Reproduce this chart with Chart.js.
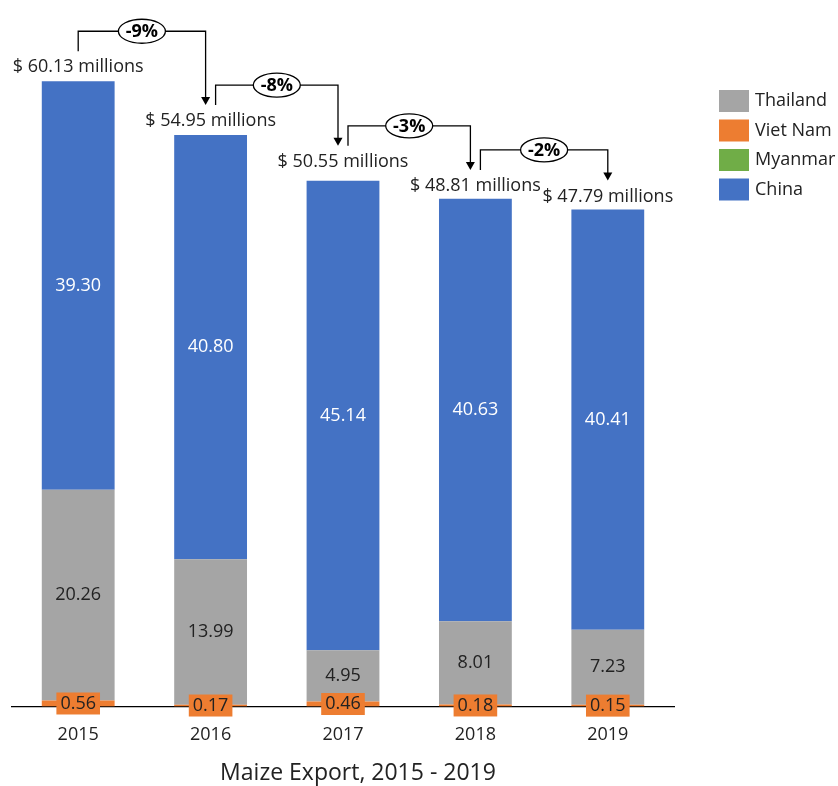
<!DOCTYPE html>
<html>
<head>
<meta charset="utf-8">
<title>Maize Export, 2015 - 2019</title>
<script src="https://cdn.jsdelivr.net/npm/chart.js@4.4.1/dist/chart.umd.min.js"></script>
<style>
    html, body { margin: 0; padding: 0; background: #fff; }
    #wrap { width: 838px; height: 786px; }
</style>
</head>
<body>
<div id="wrap"><canvas id="maizeChart" width="838" height="786"></canvas></div>
<script>
// Maize export by origin, US$ millions
const years = ['2015', '2016', '2017', '2018', '2019'];
const vietNam = [0.56, 0.17, 0.46, 0.18, 0.15];
const myanmar = [0.01, 0.00, 0.00, 0.00, 0.00];
const thailand = [20.26, 13.99, 4.95, 8.01, 7.23];
const china = [39.30, 40.80, 45.14, 40.63, 40.41];
const totals = [60.13, 54.95, 50.55, 48.81, 47.79];

const FONT = "'Open Sans', 'Noto Sans', sans-serif";
const TEXT = '#222';

// Segment labels, totals, change arrows, legend and title
const annotations = {
    id: 'annotations',
    afterDatasetsDraw(chart, args, opts) {
        const ctx = chart.ctx;
        const y = chart.scales.y;
        ctx.save();
        ctx.textAlign = 'center';
        ctx.textBaseline = 'middle';
        ctx.font = '18px ' + FONT;

        // values inside the stacked segments
        chart.data.datasets.forEach(function(ds, di) {
            const meta = chart.getDatasetMeta(di);
            meta.data.forEach(function(bar, i) {
                const v = ds.data[i];
                if (!v || ds.label === 'Myanmar') return;
                const cy = (bar.y + bar.base) / 2;
                const txt = v.toFixed(2);
                if (ds.label === 'Viet Nam') {
                    const w = ctx.measureText(txt).width + 8;
                    ctx.fillStyle = ds.backgroundColor;
                    ctx.fillRect(bar.x - w / 2, cy - 11, w, 22);
                    ctx.fillStyle = TEXT;
                } else {
                    ctx.fillStyle = ds.label === 'China' ? '#fff' : TEXT;
                }
                ctx.fillText(txt, bar.x, cy);
            });
        });

        // totals above each bar
        const xs = chart.getDatasetMeta(0).data.map(b => b.x);
        const labelY = totals.map((t, i) => y.getPixelForValue(t) - opts.lift[i]);
        ctx.fillStyle = TEXT;
        totals.forEach(function(t, i) {
            ctx.fillText('$ ' + t.toFixed(2) + ' millions', xs[i], labelY[i]);
        });

        // year-on-year change connectors
        ctx.strokeStyle = '#000';
        ctx.lineWidth = 1.3;
        for (let i = 0; i < totals.length - 1; i++) {
            const x0 = xs[i] + (i > 0 ? 5 : 0);
            const x1 = xs[i + 1] - (i + 1 < totals.length - 1 ? 5 : 0);
            const yStart = labelY[i] - 16;
            const yTop = yStart - 20;
            const yTip = labelY[i + 1] - 16;
            ctx.beginPath();
            ctx.moveTo(x0, yStart);
            ctx.lineTo(x0, yTop);
            ctx.lineTo(x1, yTop);
            ctx.lineTo(x1, yTip - 7);
            ctx.stroke();
            ctx.beginPath();
            ctx.moveTo(x1 - 4.5, yTip - 8);
            ctx.lineTo(x1 + 4.5, yTip - 8);
            ctx.lineTo(x1, yTip);
            ctx.closePath();
            ctx.fillStyle = '#000';
            ctx.fill();

            const pct = Math.round((totals[i + 1] - totals[i]) / totals[i] * 100);
            const mx = (x0 + x1) / 2;
            ctx.beginPath();
            ctx.ellipse(mx, yTop, 23.5, 12, 0, 0, Math.PI * 2);
            ctx.fillStyle = '#fff';
            ctx.fill();
            ctx.stroke();
            ctx.fillStyle = '#000';
            ctx.font = 'bold 18px ' + FONT;
            ctx.fillText(pct + '%', mx, yTop + 1);
            ctx.font = '18px ' + FONT;
        }

        // legend
        ctx.textAlign = 'left';
        opts.legendOrder.forEach(function(di, k) {
            const ds = chart.data.datasets[di];
            const top = 90 + k * 29.5;
            ctx.fillStyle = ds.backgroundColor;
            ctx.fillRect(719, top, 30, 22);
            ctx.fillStyle = TEXT;
            ctx.fillText(ds.label, 755, top + 11);
        });

        // title under the axis
        ctx.textAlign = 'center';
        ctx.font = '23px ' + FONT;
        ctx.fillText('Maize Export, 2015 - 2019', 358, 773);
        ctx.restore();
    }
};

new Chart(document.getElementById('maizeChart'), {
    type: 'bar',
    data: {
        labels: years,
        datasets: [
            { label: 'Viet Nam', data: vietNam, backgroundColor: '#ED7D31' },
            { label: 'Myanmar', data: myanmar, backgroundColor: '#70AD47' },
            { label: 'Thailand', data: thailand, backgroundColor: '#A5A5A5' },
            { label: 'China', data: china, backgroundColor: '#4472C4' }
        ]
    },
    options: {
        responsive: false,
        animation: false,
        layout: { padding: { top: 41, left: 12, right: 164, bottom: 22 } },
        datasets: { bar: { categoryPercentage: 1, barPercentage: 0.55 } },
        plugins: {
            legend: { display: false },
            tooltip: { enabled: false },
            annotations: { lift: [14, 14, 19, 13, 13], legendOrder: [2, 0, 1, 3] }
        },
        scales: {
            x: {
                stacked: true,
                grid: { display: false, drawTicks: false },
                border: { display: true, color: '#000', width: 1.3 },
                ticks: { color: TEXT, font: { family: FONT, size: 18 }, padding: 18 }
            },
            y: {
                stacked: true,
                display: false,
                min: 0,
                max: 64
            }
        }
    },
    plugins: [annotations]
});
</script>
</body>
</html>
